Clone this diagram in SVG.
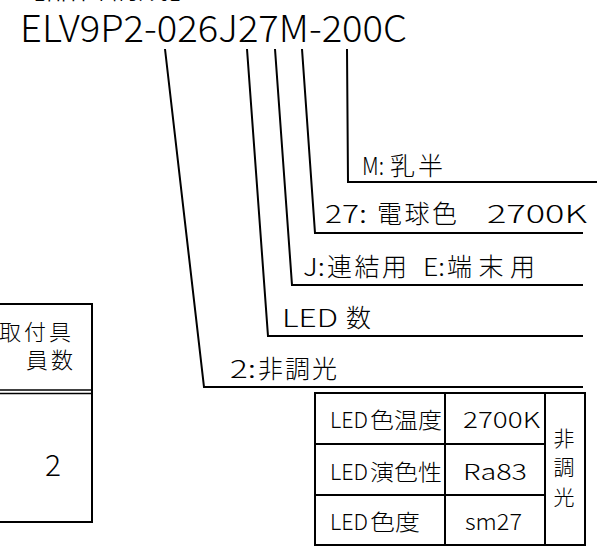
<svg xmlns="http://www.w3.org/2000/svg" width="605" height="551" viewBox="0 0 605 551">
<style>
text{font-family:"Noto Sans CJK JP","Noto Sans",sans-serif;fill:#000;font-weight:300;}
.lbl{font-size:25px;}
.tb{font-size:22px;}
.ln{fill:none;stroke:#000;stroke-width:2;}
</style>
<rect width="605" height="551" fill="#fff"/>
<g id="title">
<text x="15" y="-1" style="font-size:25px" textLength="185" lengthAdjust="spacingAndGlyphs">【品番構成】</text>
<text x="20" y="42" style="font-size:37px" textLength="387" lengthAdjust="spacingAndGlyphs">ELV9P2-026J27M-200C</text>
</g>
<g id="connectors">
<polyline class="ln" points="165,49 204,387 583,387"/>
<polyline class="ln" points="247,49 268,336 583,336"/>
<polyline class="ln" points="275,49 292,285 583,285"/>
<polyline class="ln" points="302,49 315,233 583,233"/>
<polyline class="ln" points="347,49 348,182 597,182"/>
</g>
<g id="label-m">
<text class="lbl" y="175"><tspan x="362" textLength="22" lengthAdjust="spacingAndGlyphs">M:</tspan><tspan x="390" textLength="53">乳半</tspan></text>
</g>
<g id="label-27">
<text class="lbl" y="223"><tspan x="325" textLength="42" lengthAdjust="spacingAndGlyphs">27:</tspan><tspan x="377" textLength="80">電球色</tspan><tspan x="487" textLength="100" lengthAdjust="spacingAndGlyphs">2700K</tspan></text>
</g>
<g id="label-j">
<text class="lbl" y="276"><tspan x="303" textLength="22" lengthAdjust="spacingAndGlyphs">J:</tspan><tspan x="327" textLength="80">連結用</tspan><tspan x="423" textLength="22" lengthAdjust="spacingAndGlyphs">E:</tspan><tspan x="447" textLength="88">端末用</tspan></text>
</g>
<g id="label-led">
<text class="lbl" y="327"><tspan x="282" textLength="56" lengthAdjust="spacingAndGlyphs">LED</tspan><tspan x="346">数</tspan></text>
</g>
<g id="label-2">
<text class="lbl" y="378"><tspan x="230" textLength="26" lengthAdjust="spacingAndGlyphs">2:</tspan><tspan x="258" textLength="79">非調光</tspan></text>
</g>
<g id="table-left">
<polyline class="ln" points="0,304 92,304 92,522 0,522"/>
<line x1="0" y1="390" x2="92" y2="390" stroke="#000" stroke-width="1.5"/>
<line x1="0" y1="393.5" x2="92" y2="393.5" stroke="#000" stroke-width="1.5"/>
<text class="tb" x="-1" y="340" letter-spacing="3">取付具</text>
<text class="tb" x="26" y="368" letter-spacing="3">員数</text>
<text x="45" y="476" style="font-size:30px" textLength="16" lengthAdjust="spacingAndGlyphs">2</text>
</g>
<g id="table-right">
<rect class="ln" x="315" y="393" width="270" height="152"/>
<line class="ln" x1="445" y1="393" x2="445" y2="545"/>
<line class="ln" x1="545" y1="393" x2="545" y2="545"/>
<line class="ln" x1="315" y1="444" x2="545" y2="444"/>
<line class="ln" x1="315" y1="495" x2="545" y2="495"/>
<text class="tb" y="428"><tspan x="330" textLength="38" lengthAdjust="spacingAndGlyphs">LED</tspan><tspan x="370" textLength="72" lengthAdjust="spacingAndGlyphs">色温度</tspan></text>
<text class="tb" y="480"><tspan x="330" textLength="38" lengthAdjust="spacingAndGlyphs">LED</tspan><tspan x="370" textLength="72" lengthAdjust="spacingAndGlyphs">演色性</tspan></text>
<text class="tb" y="530"><tspan x="330" textLength="38" lengthAdjust="spacingAndGlyphs">LED</tspan><tspan x="370" textLength="50" lengthAdjust="spacingAndGlyphs">色度</tspan></text>
<text class="tb" x="463" y="428" textLength="77" lengthAdjust="spacingAndGlyphs">2700K</text>
<text class="tb" x="463" y="480" textLength="64" lengthAdjust="spacingAndGlyphs">Ra83</text>
<text class="tb" x="465" y="530" textLength="57" lengthAdjust="spacingAndGlyphs">sm27</text>
<text style="font-size:21px" x="564" y="446" text-anchor="middle">非</text>
<text style="font-size:21px" x="564" y="475" text-anchor="middle">調</text>
<text style="font-size:21px" x="564" y="505" text-anchor="middle">光</text>
</g>
</svg>
